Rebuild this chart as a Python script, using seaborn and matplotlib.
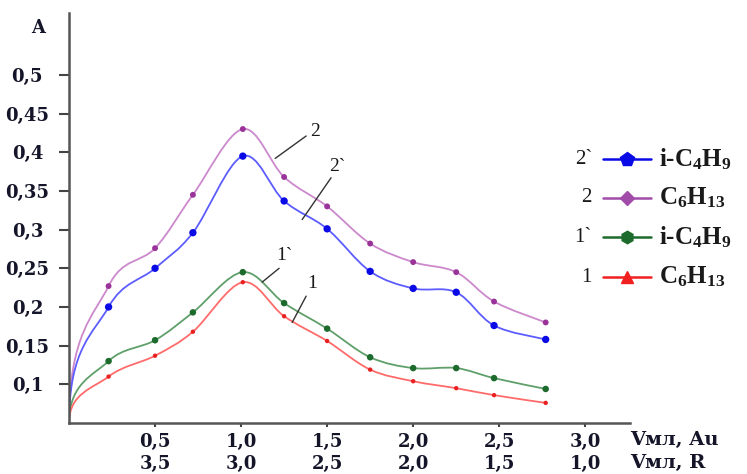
import numpy as np
import matplotlib
matplotlib.use("Agg")
import matplotlib.pyplot as plt
from matplotlib.path import Path
from matplotlib.patches import PathPatch
from matplotlib.lines import Line2D
import seaborn as sns
import pandas as pd

# Titrant volume (ml, Au scale) and absorbance of the four systems
volume_au = [0.0, 0.23, 0.5, 0.72, 1.01, 1.25, 1.5, 1.75, 2.0, 2.25, 2.47, 2.77]
abs_2 = [0.05, 0.227, 0.276, 0.345, 0.430, 0.368, 0.330, 0.282, 0.258, 0.245, 0.207, 0.180]
abs_2p = [0.05, 0.200, 0.250, 0.296, 0.395, 0.337, 0.301, 0.246, 0.224, 0.219, 0.176, 0.158]
abs_1p = [0.05, 0.130, 0.157, 0.193, 0.245, 0.205, 0.172, 0.135, 0.121, 0.121, 0.108, 0.094]
abs_1 = [0.05, 0.110, 0.137, 0.168, 0.232, 0.188, 0.156, 0.119, 0.104, 0.095, 0.086, 0.076]

x_ticks = [0.5, 1.0, 1.5, 2.0, 2.5, 3.0]
au_labels = ["0,5", "1,0", "1,5", "2,0", "2,5", "3,0"]
r_labels = ["3,5", "3,0", "2,5", "2,0", "1,5", "1,0"]
y_ticks = [0.1, 0.15, 0.2, 0.25, 0.3, 0.35, 0.4, 0.45, 0.5]
y_labels = ["0,1", "0,15", "0,2", "0,25", "0,3", "0,35", "0,4", "0,45", "0,5"]

curve_numbers = ["2`", "2", "1`", "1"]
curve_names = ["i-C$_4$H$_9$", "C$_6$H$_{13}$", "i-C$_4$H$_9$", "C$_6$H$_{13}$"]

sns.set_style("white")
plt.rcParams["font.family"] = ["DejaVu Serif"]
plt.rcParams["mathtext.fontset"] = "custom"
plt.rcParams["mathtext.rm"] = "Liberation Serif:bold"
plt.rcParams["mathtext.default"] = "rm"

INK = "#15152a"
W, H = 747, 474
fig = plt.figure(figsize=(W / 100, H / 100), dpi=100)
ax = fig.add_axes([69 / W, 1 - 423 / H, (630 - 69) / W, (423 - 13) / H])
ax.set_xlim(0, 3.26)
ax.set_ylim(0.05, 0.58)


def smooth_path(xs, ys):
    """Cubic Bezier path through the points (Catmull-Rom tangents)."""
    pts = np.column_stack([xs, ys]).astype(float)
    n = len(pts)
    verts = [pts[0]]
    codes = [Path.MOVETO]
    for i in range(n - 1):
        p0 = pts[i - 1] if i > 0 else pts[i]
        p1, p2 = pts[i], pts[i + 1]
        p3 = pts[i + 2] if i + 2 < n else pts[i + 1]
        c1 = p1 + (p2 - p0) / 6
        c2 = p2 - (p3 - p1) / 6
        if i == 0:
            c1 = np.array([p1[0], p1[1] + 0.65 * (p2[1] - p1[1])])
        verts += [c1, c2, p2]
        codes += [Path.CURVE4] * 3
    return Path(verts, codes)


series = [
    (abs_2, "#cc88cc", "#993399", 18),
    (abs_2p, "#5c5cff", "#0a0ae6", 28),
    (abs_1p, "#5f9f6a", "#1d6b2c", 22),
    (abs_1, "#ff6b6b", "#e82020", 10),
]
for ys, line_c, mark_c, size in series:
    ax.add_patch(PathPatch(smooth_path(volume_au, ys), facecolor="none",
                           edgecolor=line_c, lw=1.3, zorder=2))
    df = pd.DataFrame({"v": volume_au[1:], "a": ys[1:]})
    sns.scatterplot(data=df, x="v", y="a", color=mark_c, s=size,
                    edgecolor="none", legend=False, ax=ax, zorder=3)

# Curve number callouts
callouts = [
    ("2", (1.43, 0.427), (1.378, 0.421), (1.198, 0.392)),
    ("2`", (1.56, 0.381), (1.523, 0.367), (1.355, 0.313)),
    ("1`", (1.25, 0.266), (1.221, 0.250), (1.122, 0.232)),
    ("1", (1.415, 0.230), (1.378, 0.214), (1.297, 0.180)),
]
for txt, tpos, a, b in callouts:
    ax.plot([a[0], b[0]], [a[1], b[1]], color="#333333", lw=1.0, zorder=4)
    ax.text(tpos[0], tpos[1], txt, fontsize=14, ha="center", va="center",
            color="#1a1a1a", family=["Liberation Serif"])

ax.set_xlabel("")
ax.set_ylabel("")
ax.set_xticks(x_ticks)
ax.set_xticklabels([f"{a}\n{r}" for a, r in zip(au_labels, r_labels)],
                   fontsize=13, fontweight="bold", linespacing=1.3,
                   color=INK)
ax.set_yticks(y_ticks)
ax.set_yticklabels(y_labels, fontsize=13, fontweight="bold", color=INK)
for lab in ax.get_yticklabels():
    lab.set_horizontalalignment("center")
ax.tick_params(axis="y", direction="out", length=7, width=1.5, color="#444444",
               pad=23, left=True)
ax.tick_params(axis="x", direction="out", length=3, width=1.5, color="#444444",
               pad=4, bottom=True)

for side in ["top", "right"]:
    ax.spines[side].set_visible(False)
for side in ["left", "bottom"]:
    ax.spines[side].set_color("#555555")
    ax.spines[side].set_linewidth(1.8)

fig.text(38 / W, 1 - 28 / H, "A", fontsize=13, fontweight="bold",
         ha="center", va="center", color=INK)
fig.text(630 / W, 1 - 440 / H, "Vмл, Au", fontsize=14, fontweight="bold",
         ha="left", va="center", color=INK)
fig.text(630 / W, 1 - 463 / H, "Vмл, R", fontsize=14, fontweight="bold",
         ha="left", va="center", color=INK)

# Legend drawn row by row: number, line with marker, formula
legend_rows = [
    (159, "#0a0ae6", "p", 10),
    (198, "#a04ca8", "D", 7.5),
    (237, "#1d6b2c", "h", 9),
    (277, "#f02020", "^", 8),
]
for (py, col, mk, ms), num, name in zip(legend_rows, curve_numbers, curve_names):
    fy = 1 - py / H
    fig.add_artist(Line2D([603 / W, 651 / W], [fy, fy], color=col, lw=1.8,
                          transform=fig.transFigure))
    fig.add_artist(Line2D([627 / W], [fy], color=col, marker=mk, markersize=ms,
                          transform=fig.transFigure))
    fig.text(592 / W, fy, num, fontsize=15, ha="right", va="center",
             color="#1a1a1a", family=["Liberation Serif"])
    fig.text(659 / W, fy, name, fontsize=18, fontweight="bold", ha="left",
             va="center", color="#1a1a1a", family=["Liberation Serif"])

fig.savefig("out.png", dpi=100)
